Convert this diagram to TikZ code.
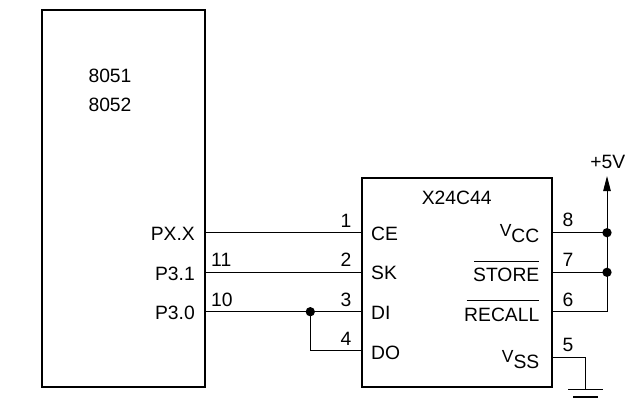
\documentclass[tikz,border=0pt]{standalone}
\usepackage{fontspec}
\setmainfont{Liberation Sans}
\usetikzlibrary{arrows.meta}
\tikzset{
  x=1pt,y=-1pt,
  box/.style={draw=black,line width=1.9pt,minimum width=#1,inner sep=0pt},
  wire/.style={draw=black,line width=0.9pt},
  txt/.style={font=\fontsize{19.3}{22}\selectfont,inner sep=0pt,text=black},
  lbc/.style={txt,anchor=base},
  lbl/.style={txt,anchor=base west},
  lbr/.style={txt,anchor=base east},
  dotj/.style={circle,fill=black,draw=none,minimum size=9.3pt,inner sep=0pt},
  bar/.style={draw=black,line width=1.6pt},
}
\newcommand{\vsub}[1]{{\fontsize{17.5}{20}\selectfont V}\raisebox{-5.5pt}{#1}}
\begin{document}
\begin{tikzpicture}
\useasboundingbox (0,0) rectangle (638,402);
% boxes
\node[box=162.7pt,minimum height=376.7pt] (mcu) at (123.3,198.3) {};
\node[box=190.3pt,minimum height=209pt] (chip) at (456.8,282.2) {};
% pin anchors
\coordinate (a1) at (mcu.east |- 0,232.7);
\coordinate (a2) at (mcu.east |- 0,272.3);
\coordinate (a3) at (mcu.east |- 0,311.7);
\coordinate (b1) at (chip.west |- 0,232.7);
\coordinate (b2) at (chip.west |- 0,272.3);
\coordinate (b3) at (chip.west |- 0,311.7);
\coordinate (b4) at (chip.west |- 0,350.7);
\coordinate (r8) at (chip.east |- 0,232.7);
\coordinate (r7) at (chip.east |- 0,272.3);
\coordinate (r6) at (chip.east |- 0,311.7);
\coordinate (r5) at (chip.east |- 0,357.3);
\node[dotj] (j1) at (310.3,311.7) {};
\node[dotj] (j8) at (607,232.7) {};
\node[dotj] (j7) at (607,272.3) {};
\coordinate (tip) at (607,176);
\coordinate (g0) at (585.7,389.3);
\coordinate (g1l) at (568,389.3);
\coordinate (g1r) at (602.7,389.3);
\coordinate (g2l) at (573,397);
\coordinate (g2r) at (598,397);
% wires
\draw[wire] (a1) -- (b1);
\draw[wire] (a2) -- (b2);
\draw[wire] (a3) -- (b3);
\draw[wire] (j1.center) |- (b4);
\draw[wire] (r8) -- (j8.center);
\draw[wire] (r7) -- (j7.center);
\draw[wire] (r6) -| (j7.center);
\draw[wire] (j7.center) -- (j8.center);
\draw[wire,-{Triangle[length=15pt,width=7.5pt]}] (j8.center) -- (tip);
\draw[wire] (r5) -| (g0);
\draw[bar] (g1l) -- (g1r);
\draw[bar] (g2l) -- (g2r);
% texts
\node[lbc] (t1) at (110,82) {8051};
\node[lbc] (t2) at (110,111) {8052};
\node[lbr] (p1) at (195,240) {PX.X};
\node[lbr] (p2) at (195,280) {P3.1};
\node[lbr] (p3) at (195,319) {P3.0};
\node[lbl] (n11) at (211,266) {11};
\node[lbl] (n10) at (211,306) {10};
\node[lbr] (n1) at (351.5,227) {1};
\node[lbr] (n2) at (351.5,266) {2};
\node[lbr] (n3) at (351.5,306) {3};
\node[lbr] (n4) at (351.5,345) {4};
\node[lbl] (c1) at (371,240) {CE};
\node[lbl] (c2) at (371,279.5) {SK};
\node[lbl] (c3) at (371,319.5) {DI};
\node[lbl] (c4) at (371,359) {DO};
\node[lbc] (x) at (456.7,204) {X24C44};
\node[lbr] (vcc) at (539.5,236.7) {\vsub{CC}};
\node[lbr] (st) at (539.5,281.7) {STORE};
\node[lbr] (rc) at (539.5,321) {RECALL};
\node[lbr] (vss) at (539.5,362.7) {\vsub{SS}};
\draw[black,line width=0.9pt] (474,261) -- (539,261);
\draw[black,line width=0.9pt] (466.5,300.7) -- (539,300.7);
\node[lbl] (n8) at (562.5,226.7) {8};
\node[lbl] (n7) at (562.5,266) {7};
\node[lbl] (n6) at (562.5,306) {6};
\node[lbl] (n5) at (562.5,351) {5};
\node[lbc] (v) at (607.7,168) {+5V};
\end{tikzpicture}
\end{document}
